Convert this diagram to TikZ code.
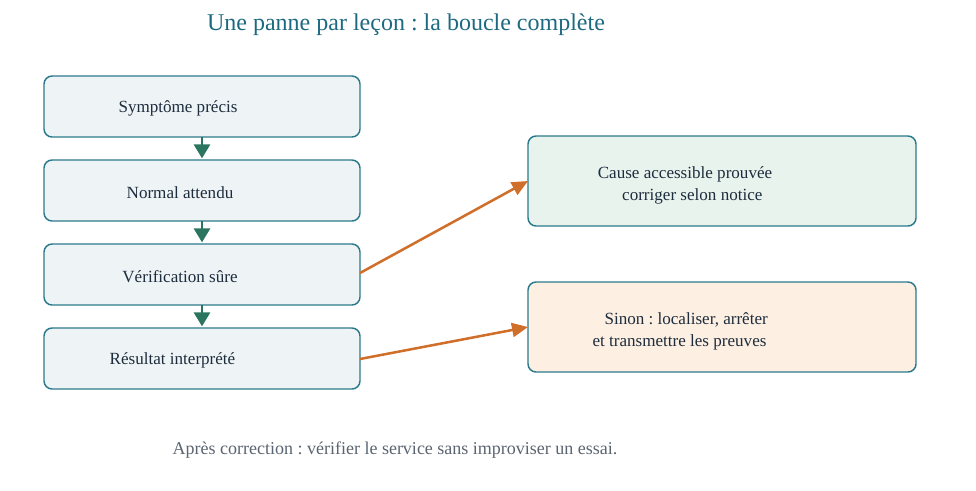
\documentclass[tikz,border=0pt]{standalone}
\usepackage{fontspec}
\setmainfont{Liberation Serif}
\usetikzlibrary{arrows.meta}
\definecolor{teal}{HTML}{2B7A8C}
\definecolor{titlec}{HTML}{1D6A80}
\definecolor{boxfill}{HTML}{EEF3F6}
\definecolor{okfill}{HTML}{E8F3EE}
\definecolor{warnfill}{HTML}{FDF0E3}
\definecolor{txt}{HTML}{1E2D3D}
\definecolor{greenar}{HTML}{2A7560}
\definecolor{orangear}{HTML}{D06F2A}
\definecolor{footc}{HTML}{5A6470}
\begin{document}
\frenchspacing
\begin{tikzpicture}[x=0.75pt,y=-0.75pt,
  stepbox/.style={draw=teal,line width=1.1pt,fill=boxfill,rounded corners=6pt},
  lbl/.style={text=txt,font=\fontsize{12.8pt}{17pt}\selectfont\frenchspacing,inner sep=0pt},
  downar/.style={draw=greenar,line width=2pt,shorten >=1.2pt,-{Triangle[length=10.5pt,width=12pt]}},
  sidear/.style={draw=orangear,line width=1.9pt,-{Triangle[length=12pt,width=10.5pt]}}]
\useasboundingbox (0,0) rectangle (976,490);
\node[text=titlec,font=\fontsize{18pt}{21pt}\selectfont\frenchspacing,inner sep=0pt] (title) at (406,24.5) {Une panne par leçon : la boucle complète};
% left boxes
\path[stepbox] (44,76) rectangle (360,137);
\path[stepbox] (44,160) rectangle (360,221);
\path[stepbox] (44,244) rectangle (360,305);
\path[stepbox] (44,328) rectangle (360,389);
\coordinate (b1s) at (202,137); \coordinate (b2n) at (202,160);
\coordinate (b2s) at (202,221); \coordinate (b3n) at (202,244);
\coordinate (b3s) at (202,305); \coordinate (b4n) at (202,328);
\node[lbl] (t1) at (178,108.5) {Symptôme précis};
\node[lbl] (t2) at (180,192.5) {Normal attendu};
\node[lbl] (t3) at (180,276.5) {Vérification sûre};
\node[lbl] (t4) at (172.5,360.5) {Résultat interprété};
% right boxes
\path[stepbox,fill=okfill] (528,136) rectangle (916,226);
\path[stepbox,fill=warnfill] (528,282) rectangle (916,372);
\node[lbl,align=center] (r1) at (685,185.5) {Cause accessible prouvée\\\hspace*{11pt}corriger selon notice};
\node[lbl,align=center] (r2) at (679.5,331.5) {\hspace*{10pt}Sinon : localiser, arrêter\\et transmettre les preuves};
% arrows
\draw[downar] (b1s) -- (b2n);
\draw[downar] (b2s) -- (b3n);
\draw[downar] (b3s) -- (b4n);
\coordinate (o1) at (360,273); \coordinate (i1) at (528,181);
\coordinate (o2) at (360,359); \coordinate (i2) at (528,327);
\draw[sidear] (o1) -- (i1);
\draw[sidear] (o2) -- (i2);
\node[text=footc,font=\fontsize{13.5pt}{16pt}\selectfont\frenchspacing,inner sep=0pt] (foot) at (395,450) {Après correction : vérifier le service sans improviser un essai.};
\end{tikzpicture}
\end{document}
